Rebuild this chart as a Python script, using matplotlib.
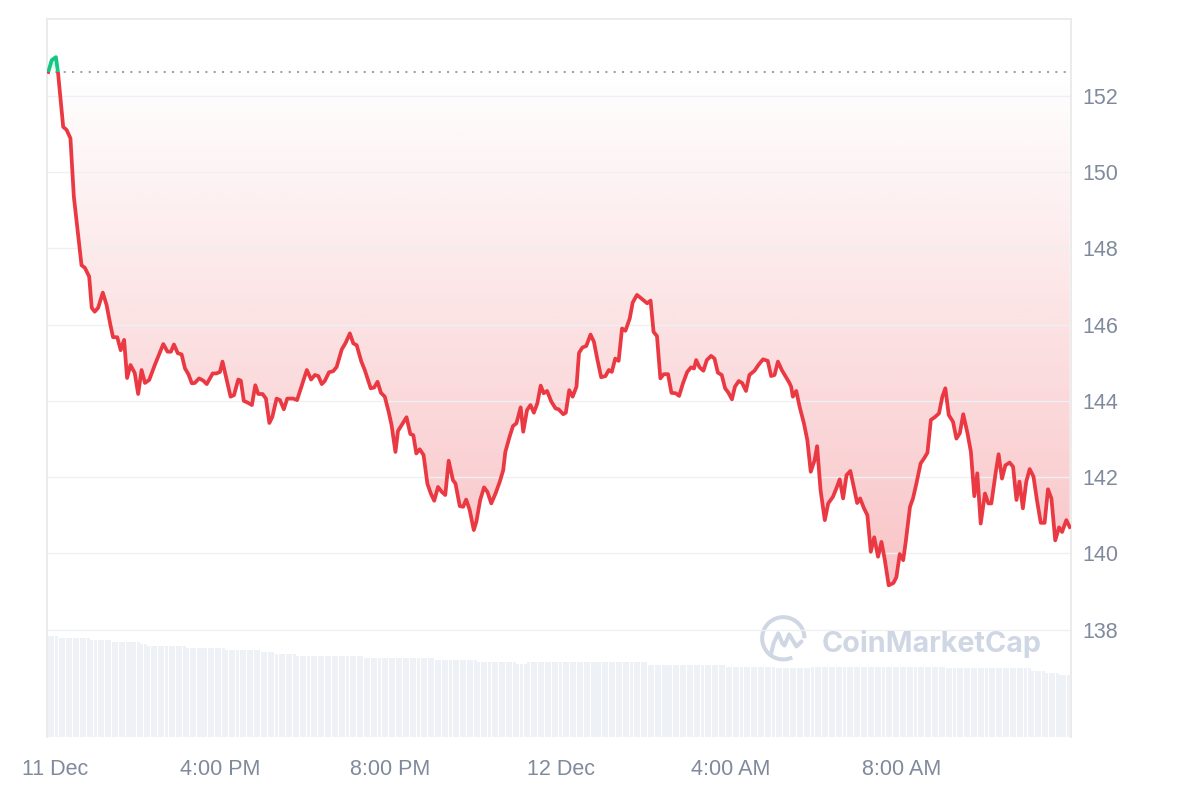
import numpy as np
import matplotlib
matplotlib.use("Agg")
import matplotlib.pyplot as plt
from matplotlib.colors import to_rgb
from matplotlib.patches import Rectangle, Arc

# price, hours since 11 Dec 00:00
hours = [11.97, 12.05, 12.15, 12.20, 12.32, 12.40, 12.49, 12.57, 12.75, 12.83,
         12.93, 12.99, 13.06, 13.14, 13.25, 13.34, 13.42, 13.49, 13.59, 13.67,
         13.75, 13.82, 13.90, 14.00, 14.08, 14.16, 14.24, 14.34, 14.47, 14.67,
         14.77, 14.85, 14.92, 15.01, 15.10, 15.18, 15.26, 15.34, 15.41, 15.51,
         15.61, 15.69, 15.83, 15.92, 16.00, 16.06, 16.16, 16.25, 16.33, 16.43,
         16.49, 16.56, 16.66, 16.75, 16.83, 16.90, 17.00, 17.08, 17.16, 17.23,
         17.33, 17.41, 17.50, 17.58, 17.72, 17.81,
         18.04, 18.14, 18.23, 18.31, 18.39, 18.46, 18.56, 18.66, 18.74, 18.86,
         18.95, 19.05, 19.13, 19.21, 19.32, 19.40, 19.54, 19.62, 19.70, 19.78,
         19.87, 19.97, 20.03, 20.12, 20.18, 20.28, 20.38, 20.47, 20.54, 20.61,
         20.69, 20.78, 20.87, 20.95, 21.03, 21.12, 21.21, 21.29, 21.37, 21.47,
         21.53, 21.63, 21.71, 21.78, 21.86, 21.96, 22.02, 22.11, 22.20, 22.28,
         22.37, 22.47, 22.57, 22.65, 22.70, 22.80, 22.88, 22.96, 23.06, 23.12,
         23.21, 23.29, 23.37, 23.45, 23.53, 23.60, 23.68, 23.78,
         23.88, 23.95, 24.06, 24.12, 24.20, 24.28, 24.37, 24.43, 24.51, 24.60,
         24.70, 24.78, 24.86, 24.95, 25.05, 25.13, 25.20, 25.28, 25.36, 25.44,
         25.52, 25.62, 25.69, 25.79, 25.89, 26.03, 26.11, 26.18, 26.26, 26.34,
         26.42, 26.52, 26.60, 26.70, 26.78, 26.87, 26.97, 27.06, 27.13, 27.18,
         27.26, 27.35, 27.43, 27.53, 27.61, 27.69, 27.78, 27.86, 27.94, 28.02,
         28.09, 28.18, 28.26, 28.35, 28.43, 28.55, 28.64, 28.75, 28.86, 28.94,
         29.02, 29.10, 29.19, 29.29, 29.37,
         29.41, 29.45, 29.53, 29.61, 29.71, 29.79, 29.87, 29.96, 30.02, 30.10,
         30.20, 30.28, 30.39, 30.47, 30.55, 30.63, 30.71, 30.80, 30.88, 30.96,
         31.03, 31.12, 31.20, 31.28, 31.36, 31.45, 31.53, 31.61, 31.70, 31.81,
         31.88, 31.96, 32.04, 32.10, 32.20, 32.27, 32.35, 32.45, 32.53, 32.61,
         32.69, 32.78, 32.88, 32.96, 33.03, 33.11, 33.21, 33.29, 33.37, 33.45,
         33.55, 33.63, 33.71, 33.78, 33.86, 33.96, 34.04, 34.11, 34.21, 34.28,
         34.36, 34.44, 34.54, 34.62, 34.70, 34.77, 34.85, 34.93, 35.01, 35.10,
         35.18, 35.27, 35.36, 35.44, 35.52, 35.61, 35.70, 35.77, 35.87, 35.95]

price = [152.63, 152.94, 153.02, 152.60, 151.19, 151.11, 150.89, 149.36, 147.56, 147.49,
         147.26, 146.44, 146.34, 146.44, 146.84, 146.51, 146.04, 145.67, 145.67, 145.33,
         145.60, 144.60, 144.94, 144.73, 144.18, 144.81, 144.47, 144.55, 144.94, 145.49,
         145.29, 145.29, 145.48, 145.25, 145.22, 144.85, 144.70, 144.46, 144.47, 144.59,
         144.53, 144.44, 144.72, 144.72, 144.76, 145.03, 144.55, 144.11, 144.15, 144.56,
         144.53, 144.00, 143.95, 143.89, 144.41, 144.18, 144.18, 144.06, 143.42, 143.58,
         144.06, 144.02, 143.78, 144.06, 144.06, 144.02,
         144.81, 144.56, 144.68, 144.65, 144.44, 144.52, 144.75, 144.78, 144.89, 145.35,
         145.52, 145.77, 145.51, 145.46, 145.03, 144.81, 144.33, 144.35, 144.50, 144.21,
         144.11, 143.67, 143.36, 142.66, 143.21, 143.39, 143.57, 143.13, 143.10, 142.62,
         142.73, 142.58, 141.83, 141.57, 141.38, 141.74, 141.61, 141.53, 142.43, 141.92,
         141.83, 141.24, 141.22, 141.41, 141.15, 140.61, 140.83, 141.40, 141.73, 141.61,
         141.31, 141.57, 141.88, 142.18, 142.66, 143.06, 143.34, 143.41, 143.83, 143.19,
         143.76, 143.89, 143.69, 143.93, 144.40, 144.20, 144.26, 143.98,
         143.80, 143.78, 143.65, 143.69, 144.28, 144.11, 144.37, 145.26, 145.40, 145.44,
         145.74, 145.55, 145.09, 144.62, 144.65, 144.81, 144.76, 145.11, 145.05, 145.90,
         145.84, 146.16, 146.58, 146.78, 146.69, 146.56, 146.63, 145.81, 145.70, 144.59,
         144.70, 144.70, 144.21, 144.20, 144.13, 144.46, 144.76, 144.88, 144.85, 145.07,
         144.88, 144.79, 145.07, 145.18, 145.11, 144.74, 144.68, 144.33, 144.21, 144.04,
         144.37, 144.52, 144.47, 144.26, 144.68, 144.79, 144.94, 145.09, 145.05, 144.65,
         144.68, 145.03, 144.81, 144.62, 144.47,
         144.37, 144.11, 144.26, 143.84, 143.41, 142.97, 142.14, 142.44, 142.81, 141.66,
         140.87, 141.31, 141.48, 141.70, 141.94, 141.44, 142.05, 142.16, 141.74, 141.32,
         141.44, 141.18, 141.00, 140.04, 140.42, 139.91, 140.30, 139.82, 139.16, 139.22,
         139.37, 139.98, 139.82, 140.30, 141.22, 141.44, 141.83, 142.36, 142.49, 142.64,
         143.50, 143.57, 143.67, 144.11, 144.33, 143.63, 143.45, 143.01, 143.15, 143.65,
         143.15, 142.66, 141.50, 142.10, 140.78, 141.57, 141.31, 141.31, 142.10, 142.60,
         141.96, 142.31, 142.38, 142.27, 141.40, 141.88, 141.18, 141.88, 142.21, 142.01,
         141.40, 140.80, 140.80, 141.68, 141.44, 140.34, 140.68, 140.56, 140.87, 140.69]

open_price = 152.63

# rolling volume level, changes at these hours
vol_start = [11.96, 12.20, 12.95, 13.46, 14.05, 14.29, 15.13, 16.05, 16.96, 17.29,
             17.78, 19.36, 21.02, 22.03, 22.88, 23.20, 26.02, 27.85, 29.02, 29.85,
             33.02, 35.01, 35.32, 35.64]
vol_level = [1010, 987, 967, 947, 927, 907, 887, 867, 847, 827,
             807, 787, 767, 747, 727, 747, 725, 703, 687, 703,
             687, 663, 643, 623]

xtick_pos = [12.13, 16, 20, 24, 28, 32]
xtick_labels = ["11 Dec", "4:00 PM", "8:00 PM", "12 Dec", "4:00 AM", "8:00 AM"]
ytick_pos = [138, 140, 142, 144, 146, 148, 150, 152]

RED = "#ea3943"
GREEN = "#16c784"
LABEL = "#808a9d"
GRID = "#eff0f3"
LOGO = "#cfd6e4"

plt.rcParams["font.family"] = ["Liberation Sans", "DejaVu Sans"]

fig = plt.figure(figsize=(12, 8), dpi=100)
ax = fig.add_axes([47 / 1200, 1 - 737 / 800, 1024 / 1200, 718 / 800])
axv = ax.twinx()
ax.set_zorder(2)
ax.patch.set_visible(False)

x = np.array(hours)
y = np.array(price)
xmin, xmax = 11.94, 35.98
ymin, ymax = 135.18, 154.02

# volume bars, one per 5 minutes
bar_t = np.arange(vol_start[0], 35.96, 5 / 60)
idx = np.searchsorted(vol_start, bar_t, side="right") - 1
bar_h = np.array(vol_level)[idx]
axv.bar(bar_t, bar_h, width=5 / 60 * 0.85, align="edge", color="#eef1f5", linewidth=0)
axv.set_ylim(0, 7180)
axv.set_yticks([])
for s in axv.spines.values():
    s.set_visible(False)

# gradient fill between line and open price
poly = ax.fill_between(x, y, open_price, facecolor="none", edgecolor="none")
clip = poly.get_paths()[0]
grad = np.zeros((256, 1, 4))
grad[..., :3] = to_rgb(RED)
grad[:, 0, 3] = np.linspace(0.3, 0.0, 256)
im = ax.imshow(grad, extent=[xmin, xmax, y.min(), open_price], origin="lower",
               aspect="auto", zorder=1, interpolation="bilinear")
im.set_clip_path(clip, transform=ax.transData)
ggrad = np.zeros((64, 1, 4))
ggrad[..., :3] = to_rgb(GREEN)
ggrad[:, 0, 3] = np.linspace(0.0, 0.3, 64)
im2 = ax.imshow(ggrad, extent=[xmin, xmax, open_price, y.max()], origin="lower",
                aspect="auto", zorder=1, interpolation="bilinear")
im2.set_clip_path(clip, transform=ax.transData)

ax.axhline(open_price, color="#a3a3a3", lw=1.5, linestyle=(0, (1, 3)), zorder=3)

red_line, = ax.plot(x, y, color=RED, lw=2.7, zorder=4, solid_joinstyle="round")
red_line.set_clip_path(Rectangle((xmin, ymin), xmax - xmin, open_price - ymin,
                                 transform=ax.transData))
green_line, = ax.plot(x, y, color=GREEN, lw=2.7, zorder=4, solid_joinstyle="round")
green_line.set_clip_path(Rectangle((xmin, open_price), xmax - xmin, ymax - open_price,
                                   transform=ax.transData))

ax.set_xlim(xmin, xmax)
ax.set_ylim(ymin, ymax)
ax.yaxis.tick_right()
ax.set_yticks(ytick_pos)
ax.set_xticks(xtick_pos, xtick_labels)
ax.tick_params(length=0, labelsize=15.5, labelcolor=LABEL)
ax.tick_params(axis="x", pad=15.5)
ax.tick_params(axis="y", pad=8.5)
ax.grid(axis="y", color=GRID, lw=1)
ax.spines["bottom"].set_visible(False)
for side in ["top", "left", "right"]:
    ax.spines[side].set_color("#ebebeb")
    ax.spines[side].set_linewidth(1.4)

# watermark
fig.text(822 / 1200, 1 - 651.7 / 800, "CoinMarketCap", fontsize=20.7, fontweight="bold",
         color=LOGO, family=["Inter", "DejaVu Sans"], ha="left", va="baseline")
lax = fig.add_axes([758.3 / 1200, 1 - 663.3 / 800, 50 / 1200, 50 / 800])
lax.set_xlim(-1.1, 1.1)
lax.set_ylim(-1.1, 1.1)
lax.axis("off")
lax.add_patch(Arc((0, 0), 1.86, 1.86, theta1=0, theta2=295, lw=2.9, color=LOGO))
lax.plot([-0.55, -0.42, -0.22, -0.05, 0.05, 0.26, 0.42, 0.58, 0.8],
         [-0.72, -0.2, 0.22, -0.2, -0.32, 0.17, -0.1, -0.36, -0.14],
         color=LOGO, lw=2.9, solid_capstyle="round", solid_joinstyle="round")

fig.savefig("out.png", dpi=100)
